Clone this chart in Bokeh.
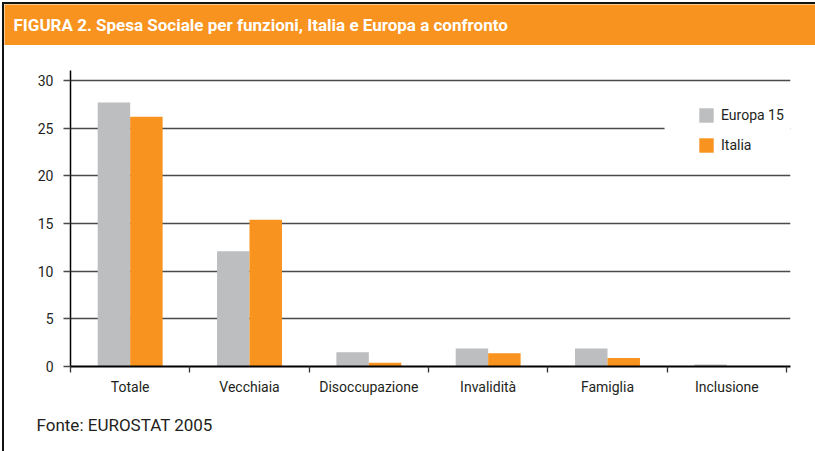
from bokeh.plotting import figure
from bokeh.models import (Range1d, FixedTicker, Label, Legend, LegendItem,
                          ColumnDataSource, BoxAnnotation)
from bokeh.layouts import column
from bokeh.embed import file_html
from bokeh.resources import INLINE

# ---- data ----
categories = ["Totale", "Vecchiaia", "Disoccupazione", "Invalidità", "Famiglia", "Inclusione"]
europa15 = [27.7, 12.1, 1.5, 1.9, 1.9, 0.2]
italia = [26.2, 15.4, 0.4, 1.4, 0.9, 0.0]
y_ticks = [0, 5, 10, 15, 20, 25, 30]
series_names = ["Europa 15", "Italia"]
title_text = "FIGURA 2. Spesa Sociale per funzioni, Italia e Europa a confronto"
source_text = "Fonte: EUROSTAT 2005"

# ---- style ----
ORANGE = "#F7931E"
GREY = "#BCBEC0"
TXT = "#231F20"
FONT = "Roboto"
W = 811


def banner(height, fill):
    # frame == whole canvas, data units == pixels
    f = figure(width=W, height=height, output_backend="svg", toolbar_location=None,
               x_range=Range1d(0, W), y_range=Range1d(0, height),
               min_border=0, frame_align=False,
               x_axis_location=None, y_axis_location=None)
    f.grid.visible = False
    f.outline_line_color = None
    f.background_fill_color = fill
    f.border_fill_color = fill
    return f


# ---- header ----
hdr = banner(41, ORANGE)
hdr.add_layout(Label(x=9, y=21, text=title_text, text_color="white",
                     text_font=FONT, text_font_style="bold",
                     text_font_size="17px", text_baseline="alphabetic"))

# ---- chart ----
n = len(categories)
centers = [i + 0.5 for i in range(n)]
bounds = [float(i) for i in range(n + 1)]
bw = 0.272
src = ColumnDataSource(dict(
    xe=[c - bw / 2 for c in centers],
    xi=[c + bw / 2 for c in centers],
    eu=europa15, it=italia))

p = figure(width=W, height=355, output_backend="svg", toolbar_location=None,
           x_range=Range1d(0, n + 0.0335), y_range=Range1d(0, 31.05),
           min_border_left=66, min_border_right=25, min_border_top=25,
           min_border_bottom=34, frame_align=False)
p.outline_line_color = None
p.xgrid.visible = False

r1 = p.vbar(x="xe", top="eu", width=bw, source=src, fill_color=GREY, line_color=None)
r2 = p.vbar(x="xi", top="it", width=bw, source=src, fill_color=ORANGE, line_color=None)

p.yaxis.ticker = FixedTicker(ticks=y_ticks)
p.ygrid.ticker = FixedTicker(ticks=y_ticks)
p.ygrid.grid_line_color = "#4a4a4a"
p.ygrid.grid_line_width = 1.3

p.yaxis.axis_line_color = "black"
p.yaxis.axis_line_width = 1.5
p.yaxis.major_tick_out = 7
p.yaxis.major_tick_in = 0
p.yaxis.major_tick_line_color = "#4a4a4a"
p.yaxis.major_tick_line_width = 1.3
p.yaxis.minor_tick_out = 0
p.yaxis.major_label_standoff = 10
p.yaxis.major_label_text_font = FONT
p.yaxis.major_label_text_font_size = "14px"
p.yaxis.major_label_text_color = TXT

p.xaxis.ticker = FixedTicker(ticks=centers, minor_ticks=bounds)
p.xaxis.major_label_overrides = {c: name for c, name in zip(centers, categories)}
p.xaxis.axis_line_color = "black"
p.xaxis.axis_line_width = 2
p.xaxis.major_tick_out = 0
p.xaxis.major_tick_in = 0
p.xaxis.minor_tick_out = 6
p.xaxis.minor_tick_in = 0
p.xaxis.minor_tick_line_color = "#333333"
p.xaxis.minor_tick_line_width = 1.3
p.xaxis.major_label_standoff = 6
p.xaxis.major_label_text_font = FONT
p.xaxis.major_label_text_font_size = "14px"
p.xaxis.major_label_text_color = TXT

# white area behind legend (breaks the gridline)
p.add_layout(BoxAnnotation(left=4.978, bottom=21, top=29, fill_color="white",
                           fill_alpha=1, line_color=None))

legend = Legend(items=[LegendItem(label=series_names[0], renderers=[r1]),
                       LegendItem(label=series_names[1], renderers=[r2])],
                location=(627, 212), orientation="vertical",
                glyph_width=18, glyph_height=18, label_height=18,
                spacing=12, padding=0, margin=0, label_standoff=6,
                border_line_color=None, background_fill_alpha=0,
                label_text_font=FONT, label_text_font_size="14px",
                label_text_color=TXT)
p.add_layout(legend)

# ---- footer ----
ftr = banner(51, "white")
ftr.add_layout(Label(x=32, y=27, text=source_text, text_color=TXT,
                     text_font=FONT, text_font_size="17px",
                     text_baseline="alphabetic"))

layout = column(hdr, p, ftr, spacing=0,
                styles={"margin-left": "4px", "margin-top": "4px",
                        "outline": "2px solid #111"})

open("out.html", "w").write(file_html(layout, INLINE))
